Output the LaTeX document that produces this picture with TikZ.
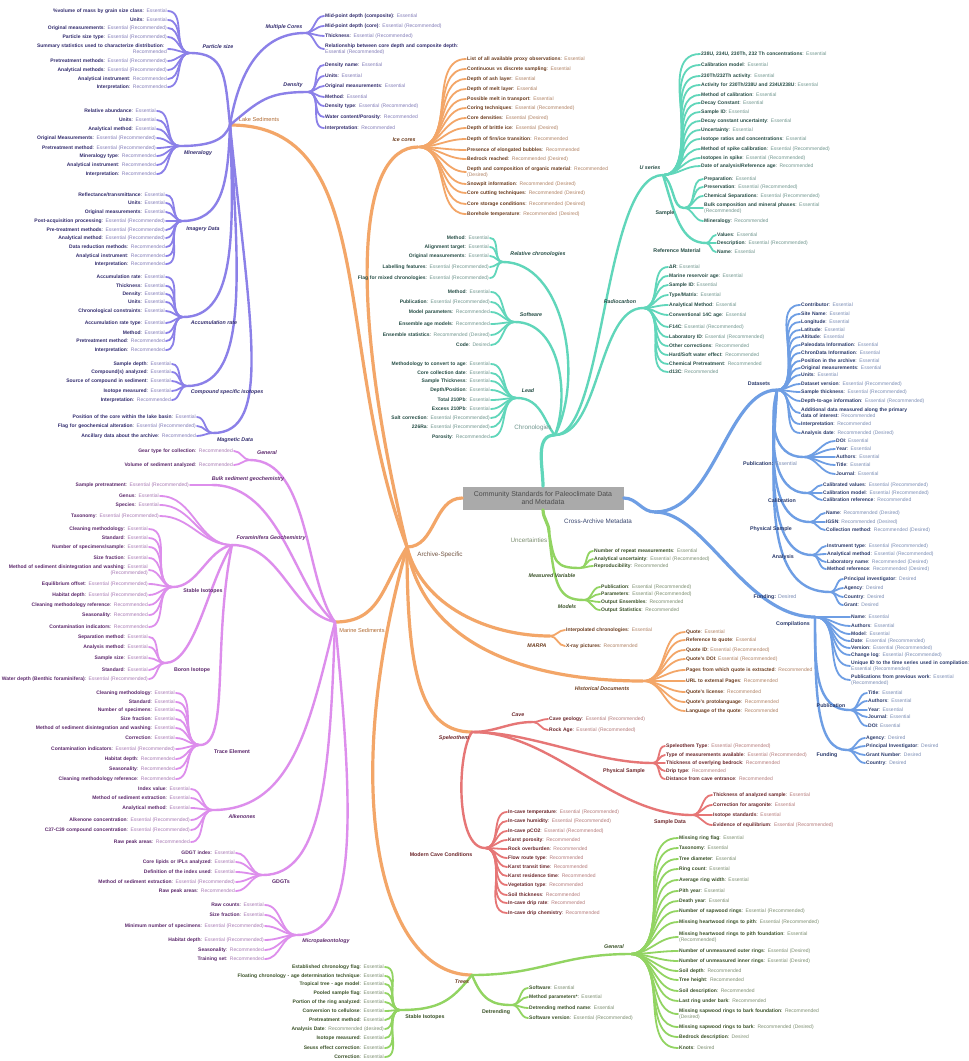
\documentclass[tikz,border=0pt]{standalone}
\usepackage{fontspec}
\setmainfont{Liberation Sans}
\setlength{\parindent}{0pt}

\definecolor{lakeC}{RGB}{139,128,232}
\definecolor{lakeK}{RGB}{50,44,110}
\definecolor{lakeV}{RGB}{130,124,184}
\definecolor{oraC}{RGB}{243,166,104}
\definecolor{oraK}{RGB}{108,60,30}
\definecolor{oraV}{RGB}{176,130,100}
\definecolor{oraL}{RGB}{176,106,50}
\definecolor{marC}{RGB}{221,142,236}
\definecolor{marK}{RGB}{92,40,108}
\definecolor{marV}{RGB}{168,122,180}
\definecolor{chrC}{RGB}{96,214,186}
\definecolor{chrK}{RGB}{38,78,70}
\definecolor{chrV}{RGB}{112,150,142}
\definecolor{croC}{RGB}{110,158,228}
\definecolor{croK}{RGB}{42,58,108}
\definecolor{croV}{RGB}{122,140,180}
\definecolor{uncC}{RGB}{146,212,98}
\definecolor{uncK}{RGB}{58,82,40}
\definecolor{uncV}{RGB}{124,142,112}
\definecolor{speC}{RGB}{230,118,118}
\definecolor{speK}{RGB}{108,38,42}
\definecolor{speV}{RGB}{180,122,122}
\definecolor{boxC}{RGB}{170,170,170}

\begin{document}
\begin{tikzpicture}[x=1pt,y=-1pt,
    leafL/.style={anchor=east,align=right,text width=240pt,inner sep=1pt,font=\fontsize{5}{6}\selectfont},
    leafR/.style={anchor=west,align=left,text width=240pt,inner sep=1pt,font=\fontsize{5}{6}\selectfont},
    cat/.style={inner sep=0.5pt,font=\fontsize{5.3}{6}\selectfont\bfseries\itshape},
    catb/.style={inner sep=0.5pt,font=\fontsize{5.3}{6}\selectfont\bfseries},
    main/.style={inner sep=0.5pt,font=\fontsize{6.3}{7}\selectfont},
    root/.style={fill=boxC,text=black!70,minimum width=161pt,minimum height=23pt,align=center,inner sep=1pt,font=\fontsize{7}{8.2}\selectfont},
    twig/.style={line width=1.8pt,line cap=round},
    limb/.style={line width=2.4pt,line cap=round},
    trunk/.style={line width=3.2pt,line cap=round}]
\fill[white] (0,0) rectangle (969,1061);
\useasboundingbox (0,0) rectangle (969,1061);

% Hubs
\node[root] (Root) at (543,498) {Community Standards for Paleoclimate Data\\and Metadata};
\coordinate (Arch) at (407,547);
\coordinate (Chron) at (555,435);
\coordinate (Cross) at (655,512);
\coordinate (Unc) at (549,532);
\coordinate (Lake) at (230,125);
\coordinate (Ice) at (418,147);
\coordinate (Mar) at (335,622);
\coordinate (MARPA) at (550,636);
\coordinate (Hist) at (643,681);
\coordinate (Spel) at (472,732);
\coordinate (Trees) at (472,975);
\coordinate (MC) at (305,33);
\coordinate (Dens) at (308,92);
\coordinate (PS) at (190,53);
\coordinate (Min) at (180,146);
\coordinate (Img) at (182,221);
\coordinate (Acc) at (183,317);
\coordinate (CSI) at (187,386);
\coordinate (Mag) at (213,433);
\coordinate (MGen) at (250,460);
\coordinate (Bulk) at (212,485);
\coordinate (Foram) at (232,545);
\coordinate (SI) at (173,587);
\coordinate (Boron) at (165,663);
\coordinate (Trace) at (200,745);
\coordinate (Alk) at (213,810);
\coordinate (GDGT) at (263,875);
\coordinate (Micro) at (297,935);
\coordinate (RC) at (503,262);
\coordinate (Soft) at (515,322);
\coordinate (Lead) at (517,398);
\coordinate (Rad) at (643,308);
\coordinate (US) at (663,175);
\coordinate (USam) at (684,208);
\coordinate (URef) at (706,243);
\coordinate (DS) at (777,390);
\coordinate (DPub) at (803,457);
\coordinate (DCal) at (807,493);
\coordinate (DPhys) at (810,522);
\coordinate (DAna) at (812,555);
\coordinate (DFund) at (830,592);
\coordinate (Comp) at (815,617);
\coordinate (CPub) at (850,710);
\coordinate (CFund) at (847,750);
\coordinate (MV) at (580,568);
\coordinate (Mod) at (584,600);
\coordinate (Cave) at (533,722);
\coordinate (SPhys) at (653,763);
\coordinate (SData) at (692,815);
\coordinate (Modern) at (485,848);
\coordinate (TGen) at (630,954);
\coordinate (Detr) at (512,1005);
\coordinate (TSI) at (400,1010);

% Branches
\draw[trunk,oraC] (Arch) to[out=0,in=180] (Root.west);
\draw[trunk,chrC] (Root.north) to[out=90,in=180] (Chron);
\draw[trunk,croC] (Root.east) to[out=0,in=180] (Cross);
\draw[trunk,uncC] (Root.south) to[out=-90,in=90] (Unc);
\draw[trunk,oraC] (Arch) .. controls +(-75,-200) and +(150,0) .. (Lake);
\draw[trunk,oraC] (Arch) .. controls +(-60,-250) and +(-60,0) .. (Ice);
\draw[trunk,oraC] (Arch) .. controls +(-25,40) and +(45,0) .. (Mar);
\draw[trunk,oraC] (Arch) .. controls +(15,60) and +(-60,0) .. (MARPA);
\draw[trunk,oraC] (Arch) .. controls +(15,90) and +(-130,0) .. (Hist);
\draw[trunk,oraC] (Arch) .. controls +(0,130) and +(-50,0) .. (Spel);
\draw[trunk,oraC] (Arch) .. controls +(-70,250) and +(-90,0) .. (Trees);
\draw[limb,lakeC] (Lake) .. controls +(10,-60) and +(-40,0) .. (MC);
\draw[limb,lakeC] (Lake) .. controls +(30,-25) and +(-40,0) .. (Dens);
\draw[limb,lakeC] (Lake) .. controls +(-5,-50) and +(35,0) .. (PS);
\draw[limb,lakeC] (Lake) .. controls +(-5,15) and +(30,0) .. (Min);
\draw[limb,lakeC] (Lake) .. controls +(-2,60) and +(40,0) .. (Img);
\draw[limb,lakeC] (Lake) .. controls +(5,120) and +(50,0) .. (Acc);
\draw[limb,lakeC] (Lake) .. controls +(10,160) and +(60,0) .. (CSI);
\draw[limb,lakeC] (Lake) .. controls +(20,200) and +(60,0) .. (Mag);
\draw[limb,marC] (Mar) .. controls +(-30,-40) and +(60,0) .. (MGen);
\draw[limb,marC] (Mar) .. controls +(-40,-30) and +(70,0) .. (Bulk);
\draw[limb,marC] (Mar) .. controls +(-45,-10) and +(50,0) .. (Foram);
\draw[limb,marC] (Mar) .. controls +(-25,100) and +(80,0) .. (Alk);
\draw[limb,marC] (Mar) .. controls +(-5,150) and +(60,0) .. (GDGT);
\draw[limb,marC] (Mar) .. controls +(20,200) and +(60,0) .. (Micro);
\draw[limb,marC] (Foram) .. controls +(-25,5) and +(25,0) .. (SI);
\draw[limb,marC] (Foram) .. controls +(-25,40) and +(30,0) .. (Boron);
\draw[limb,marC] (Foram) .. controls +(-20,100) and +(30,0) .. (Trace);
\draw[limb,chrC] (Chron) .. controls +(30,-60) and +(60,0) .. (RC);
\draw[limb,chrC] (Chron) .. controls +(15,-40) and +(45,0) .. (Soft);
\draw[limb,chrC] (Chron) .. controls +(-10,-10) and +(25,0) .. (Lead);
\draw[limb,chrC] (Chron) .. controls +(45,0) and +(-45,0) .. (Rad);
\draw[limb,chrC] (Chron) .. controls +(50,0) and +(-60,0) .. (US);
\draw[limb,chrC] (US) .. controls +(12,10) and +(-12,0) .. (USam);
\draw[limb,chrC] (US) .. controls +(12,40) and +(-25,0) .. (URef);
\draw[trunk,croC] (Cross) .. controls +(60,0) and +(-50,0) .. (DS);
\draw[trunk,croC] (Cross) .. controls +(50,0) and +(-70,0) .. (Comp);
\draw[limb,croC] (DS) .. controls +(-8,30) and +(-30,0) .. (DPub);
\draw[limb,croC] (DS) .. controls +(-8,50) and +(-35,0) .. (DCal);
\draw[limb,croC] (DS) .. controls +(-8,70) and +(-38,0) .. (DPhys);
\draw[limb,croC] (DS) .. controls +(-8,90) and +(-40,0) .. (DAna);
\draw[limb,croC] (DS) .. controls +(-8,120) and +(-60,0) .. (DFund);
\draw[limb,croC] (Comp) .. controls +(0,50) and +(-35,0) .. (CPub);
\draw[limb,croC] (Comp) .. controls +(0,80) and +(-30,0) .. (CFund);
\draw[limb,uncC] (Unc) .. controls +(5,30) and +(-25,0) .. (MV);
\draw[limb,uncC] (Unc) .. controls +(5,55) and +(-25,0) .. (Mod);
\draw[limb,speC] (Spel) to[out=0,in=180] (Cave);
\draw[limb,speC] (Spel) .. controls +(60,0) and +(-60,0) .. (SPhys);
\draw[limb,speC] (Spel) .. controls +(80,0) and +(-80,0) .. (SData);
\draw[limb,speC] (Spel) .. controls +(-15,20) and +(-30,0) .. (Modern);
\draw[limb,uncC] (Trees) .. controls +(70,0) and +(-70,0) .. (TGen);
\draw[limb,uncC] (Trees) .. controls +(10,25) and +(-20,0) .. (Detr);
\draw[limb,uncC] (Trees) .. controls +(-20,25) and +(40,0) .. (TSI);

% Main labels
\node[main,text=oraK!60!gray] (Arch-l) at (440,555) {Archive-Specific};
\node[main,text=chrV] (Chron-l) at (533,428) {Chronologies};
\node[main,text=croK!80!gray] (Cross-l) at (598,521) {Cross-Archive Metadata};
\node[main,text=uncV] (Unc-l) at (529,540) {Uncertainties};
\node[main,text=oraL,font=\fontsize{5.6}{6}\selectfont] (Lake-l) at (259,119) {Lake Sediments};
\node[main,text=oraL,font=\fontsize{5.6}{6}\selectfont] (Mar-l) at (362,630) {Marine Sediments};

% Lake Sediments
\node[cat,text=lakeK] (MC-l) at (284,27) {Multiple Cores};
\foreach \i/\y/\name/\val in {1/16/{Mid-point depth (composite)}/Essential,
    2/26/{Mid-point depth (core)}/{Essential (Recommended)},
    3/36/Thickness/{Essential (Recommended)},
    4/49/{Relationship between core depth and composite depth}/{\\Essential (Recommended)}} {
    \node[leafR,text=lakeK] (MC-\i) at (324,\y) {\textbf{\name}: \textcolor{lakeV}{\val}};
    \draw[twig,lakeC] (MC) to[out=0,in=180] (MC-\i.west);
}
\node[cat,text=lakeK] (Dens-l) at (293,85) {Density};
\foreach \i/\y/\name/\val in {1/65/Density name/Essential,
    2/76/Units/Essential,
    3/86/Original measurements/Essential,
    4/97/Method/Essential,
    5/106/Density type/{Essential (Recommended)},
    6/117/{Water content/Porosity}/Recommended,
    7/128/Interpretation/Recommended} {
    \node[leafR,text=lakeK] (Dens-\i) at (324,\y) {\textbf{\name}: \textcolor{lakeV}{\val}};
    \draw[twig,lakeC] (Dens) to[out=0,in=180] (Dens-\i.west);
}
\node[cat,text=lakeK] (PS-l) at (218,47) {Particle size};
\foreach \i/\y/\name/\val in {1/11/{\%volume of mass by grain size class}/Essential,
    2/20/Units/Essential,
    3/28/Original measurements/{Essential (Recommended)},
    4/37/Particle size type/{Essential (Recommended)},
    5/49/{Summary statistics used to characterize distribution}/{\\Recommended},
    6/61/Pretreatment methods/{Essential (Recommended)},
    7/70/Analytical methods/{Essential (Recommended)},
    8/79/Analytical instrument/Recommended,
    9/87/Interpretation/Recommended} {
    \node[leafL,text=lakeK] (PS-\i) at (168,\y) {\textbf{\name}: \textcolor{lakeV}{\val}};
    \draw[twig,lakeC] (PS) to[out=180,in=0] (PS-\i.east);
}
\node[cat,text=lakeK] (Min-l) at (198,153) {Mineralogy};
\foreach \i/\y/\name/\val in {1/111/Relative abundance/Essential,
    2/120/Units/Essential,
    3/129/Analytical method/Essential,
    4/138/Original Measurements/{Essential (Recommended)},
    5/148/Pretreatment method/{Essential (Recommended)},
    6/156/Mineralogy type/Recommended,
    7/165/Analytical instrument/Recommended,
    8/174/Interpretation/Recommended} {
    \node[leafL,text=lakeK] (Min-\i) at (157,\y) {\textbf{\name}: \textcolor{lakeV}{\val}};
    \draw[twig,lakeC] (Min) to[out=180,in=0] (Min-\i.east);
}
\node[cat,text=lakeK] (Img-l) at (203,229) {Imagery Data};
\foreach \i/\y/\name/\val in {1/195/{Reflectance/transmittance}/Essential,
    2/203/Units/Essential,
    3/212/Original measurements/Essential,
    4/221/Post-acquisition processing/{Essential (Recommended)},
    5/230/Pre-treatment methods/{Essential (Recommended)},
    6/238/Analytical method/{Essential (Recommended)},
    7/247/Data reduction methods/Recommended,
    8/256/Analytical instrument/Recommended,
    9/264/Interpretation/Recommended} {
    \node[leafL,text=lakeK] (Img-\i) at (166,\y) {\textbf{\name}: \textcolor{lakeV}{\val}};
    \draw[twig,lakeC] (Img) to[out=180,in=0] (Img-\i.east);
}
\node[cat,text=lakeK] (Acc-l) at (214,323) {Accumulation rate};
\foreach \i/\y/\name/\val in {1/277/Accumulation rate/Essential,
    2/286/Thickness/Essential,
    3/294/Density/Essential,
    4/302/Units/Essential,
    5/311/Chronological constraints/Essential,
    6/323/Accumulation rate type/Essential,
    7/333/Method/Essential,
    8/341/Pretreatment method/Recommended,
    9/350/Interpretation/Recommended} {
    \node[leafL,text=lakeK] (Acc-\i) at (166,\y) {\textbf{\name}: \textcolor{lakeV}{\val}};
    \draw[twig,lakeC] (Acc) to[out=180,in=0] (Acc-\i.east);
}
\node[cat,text=lakeK] (CSI-l) at (227,392) {Compound specific isotopes};
\foreach \i/\y/\name/\val in {1/364/Sample depth/Essential,
    2/372/{Compound(s) analyzed}/Essential,
    3/381/Source of compound in sediment/Essential,
    4/391/Isotope measured/Essential,
    5/400/Interpretation/Recommended} {
    \node[leafL,text=lakeK] (CSI-\i) at (172,\y) {\textbf{\name}: \textcolor{lakeV}{\val}};
    \draw[twig,lakeC] (CSI) to[out=180,in=0] (CSI-\i.east);
}
\node[cat,text=lakeK] (Mag-l) at (235,440) {Magnetic Data};
\foreach \i/\y/\name/\val in {1/417/Position of the core within the lake basin/Essential,
    2/426/Flag for geochemical alteration/{Essential (Recommended)},
    3/436/Ancillary data about the archive/Recommended} {
    \node[leafL,text=lakeK] (Mag-\i) at (197,\y) {\textbf{\name}: \textcolor{lakeV}{\val}};
    \draw[twig,lakeC] (Mag) to[out=180,in=0] (Mag-\i.east);
}

% Marine Sediments
\node[cat,text=marK] (MGen-l) at (267,453) {General};
\foreach \i/\y/\name/\val in {1/451/Gear type for collection/Recommended,
    2/465/Volume of sediment analyzed/Recommended} {
    \node[leafL,text=marK] (MGen-\i) at (234,\y) {\textbf{\name}: \textcolor{marV}{\val}};
    \draw[twig,marC] (MGen) to[out=180,in=0] (MGen-\i.east);
}
\node[cat,text=marK] (Bulk-l) at (248,479) {Bulk sediment geochemistry};
\foreach \i/\y/\name/\val in {1/485/Sample pretreatment/{Essential (Recommended)}} {
    \node[leafL,text=marK] (Bulk-\i) at (190,\y) {\textbf{\name}: \textcolor{marV}{\val}};
    \draw[twig,marC] (Bulk) to[out=180,in=0] (Bulk-\i.east);
}
\node[cat,text=marK] (Foram-l) at (271,538) {Foraminifera Geochemistry};
\foreach \i/\y/\name/\val in {1/496/Genus/Essential,
    2/505/Species/Essential,
    3/516/Taxonomy/{Essential (Recommended)}} {
    \node[leafL,text=marK] (Foram-\i) at (160,\y) {\textbf{\name}: \textcolor{marV}{\val}};
    \draw[twig,marC] (Foram) to[out=180,in=0] (Foram-\i.east);
}
\node[catb,text=marK] (SI-l) at (203,591) {Stable Isotopes};
\foreach \i/\y/\name/\val in {1/529/Cleaning methodology/Essential,
    2/538/Standard/Essential,
    3/547/{Number of specimens/sample}/Essential,
    4/558/Size fraction/Essential,
    5/570/Method of sediment disintegration and washing/{Essential\\(Recommended)},
    6/584/Equilibrium offset/{Essential (Recommended)},
    7/595/Habitat depth/{Essential (Recommended)},
    8/605/Cleaning methodology reference/Recommended,
    9/615/Seasonality/Recommended,
    10/627/Contamination indicators/Recommended} {
    \node[leafL,text=marK] (SI-\i) at (149,\y) {\textbf{\name}: \textcolor{marV}{\val}};
    \draw[twig,marC] (SI) to[out=180,in=0] (SI-\i.east);
}
\node[catb,text=marK] (Boron-l) at (192,670) {Boron Isotope};
\foreach \i/\y/\name/\val in {1/637/Separation method/Essential,
    2/647/Analysis method/Essential,
    3/658/Sample size/Essential,
    4/670/Standard/Essential,
    5/679/{Water depth (Benthic foraminifera)}/{Essential (Recommended)}} {
    \node[leafL,text=marK] (Boron-\i) at (149,\y) {\textbf{\name}: \textcolor{marV}{\val}};
    \draw[twig,marC] (Boron) to[out=180,in=0] (Boron-\i.east);
}
\node[catb,text=marK] (Trace-l) at (232,752) {Trace Element};
\foreach \i/\y/\name/\val in {1/693/Cleaning methodology/Essential,
    2/702/Standard/Essential,
    3/710/Number of specimens/Essential,
    4/719/Size fraction/Essential,
    5/728/Method of sediment disintegration and washing/Essential,
    6/738/Correction/Essential,
    7/749/Contamination indicators/{Essential (Recommended)},
    8/759/Habitat depth/Recommended,
    9/769/Seasonality/Recommended,
    10/779/Cleaning methodology reference/Recommended} {
    \node[leafL,text=marK] (Trace-\i) at (176,\y) {\textbf{\name}: \textcolor{marV}{\val}};
    \draw[twig,marC] (Trace) to[out=180,in=0] (Trace-\i.east);
}
\node[cat,text=marK] (Alk-l) at (242,817) {Alkenones};
\foreach \i/\y/\name/\val in {1/789/Index value/Essential,
    2/798/Method of sediment extraction/Essential,
    3/808/Analytical method/Essential,
    4/820/Alkenone concentration/{Essential (Recommended)},
    5/830/C37-C39 compound concentration/{Essential (Recommended)},
    6/842/Raw peak areas/Recommended} {
    \node[leafL,text=marK] (Alk-\i) at (191,\y) {\textbf{\name}: \textcolor{marV}{\val}};
    \draw[twig,marC] (Alk) to[out=180,in=0] (Alk-\i.east);
}
\node[catb,text=marK] (GDGT-l) at (281,882) {GDGTs};
\foreach \i/\y/\name/\val in {1/853/GDGT index/Essential,
    2/862/Core lipids or IPLs analyzed/Essential,
    3/872/Definition of the index used/Essential,
    4/882/Method of sediment extraction/{Essential (Recommended)},
    5/891/Raw peak areas/Recommended} {
    \node[leafL,text=marK] (GDGT-\i) at (236,\y) {\textbf{\name}: \textcolor{marV}{\val}};
    \draw[twig,marC] (GDGT) to[out=180,in=0] (GDGT-\i.east);
}
\node[cat,text=marK] (Micro-l) at (326,941) {Micropaleontology};
\foreach \i/\y/\name/\val in {1/905/Raw counts/Essential,
    2/915/Size fraction/Essential,
    3/926/Minimum number of specimens/{Essential (Recommended)},
    4/940/Habitat depth/{Essential (Recommended)},
    5/950/Seasonality/Recommended,
    6/959/Training set/Recommended} {
    \node[leafL,text=marK] (Micro-\i) at (265,\y) {\textbf{\name}: \textcolor{marV}{\val}};
    \draw[twig,marC] (Micro) to[out=180,in=0] (Micro-\i.east);
}

% Ice cores
\node[cat,text=oraK] (Ice-l) at (404,140) {Ice cores};
\foreach \i/\y/\name/\val in {1/59/List of all available proxy observations/Essential,
    2/69/Continuous vs discrete sampling/Essential,
    3/79/Depth of ash layer/Essential,
    4/89/Depth of melt layer/Essential,
    5/99/Possible melt in transport/Essential,
    6/108/Coring techniques/{Essential (Recommended)},
    7/118/Core densities/{Essential (Desired)},
    8/128/Depth of brittle ice/{Essential (Desired)},
    9/139/{Depth of firn/ice transition}/Recommended,
    10/150/Presence of elongated bubbles/Recommended,
    11/159/Bedrock reached/{Recommended (Desired)},
    12/172/Depth and composition of organic material/{Recommended\\(Desired)},
    13/184/Snowpit information/{Recommended (Desired)},
    14/193/Core cutting techniques/{Recommended (Desired)},
    15/204/Core storage conditions/{Recommended (Desired)},
    16/214/Borehole temperature/{Recommended (Desired)}} {
    \node[leafR,text=oraK] (Ice-\i) at (466,\y) {\textbf{\name}: \textcolor{oraV}{\val}};
    \draw[twig,oraC] (Ice) to[out=0,in=180] (Ice-\i.west);
}

% Chronologies
\node[cat,text=chrK] (RC-l) at (538,254) {Relative chronologies};
\foreach \i/\y/\name/\val in {1/238/Method/Essential,
    2/247/Alignment target/Essential,
    3/256/Original measurements/Essential,
    4/267/Labelling features/{Essential (Recommended)},
    5/278/Flag for mixed chronologies/{Essential (Recommended)}} {
    \node[leafL,text=chrK] (RC-\i) at (490,\y) {\textbf{\name}: \textcolor{chrV}{\val}};
    \draw[twig,chrC] (RC) to[out=180,in=0] (RC-\i.east);
}
\node[cat,text=chrK] (Soft-l) at (531,315) {Software};
\foreach \i/\y/\name/\val in {1/292/Method/Essential,
    2/302/Publication/{Essential (Recommended)},
    3/312/Model parameters/Recommended,
    4/324/Ensemble age models/Recommended,
    5/335/Ensemble statistics/{Recommended (Desired)},
    6/345/Code/Desired} {
    \node[leafL,text=chrK] (Soft-\i) at (491,\y) {\textbf{\name}: \textcolor{chrV}{\val}};
    \draw[twig,chrC] (Soft) to[out=180,in=0] (Soft-\i.east);
}
\node[cat,text=chrK] (Lead-l) at (528,391) {Lead};
\foreach \i/\y/\name/\val in {1/364/Methodology to convert to age/Essential,
    2/373/Core collection date/Essential,
    3/381/Sample Thickness/Essential,
    4/390/{Depth/Position}/Essential,
    5/400/Total 210Pb/Essential,
    6/409/Excess 210Pb/Essential,
    7/418/Salt correction/{Essential (Recommended)},
    8/427/226Ra/{Essential (Recommended)},
    9/437/Porosity/Recommended} {
    \node[leafL,text=chrK] (Lead-\i) at (491,\y) {\textbf{\name}: \textcolor{chrV}{\val}};
    \draw[twig,chrC] (Lead) to[out=180,in=0] (Lead-\i.east);
}
\node[cat,text=chrK] (Rad-l) at (620,302) {Radiocarbon};
\foreach \i/\y/\name/\val in {1/267/ΔR/Essential,
    2/276/Marine reservoir age/Essential,
    3/285/Sample ID/Essential,
    4/295/{Type/Matrix}/Essential,
    5/305/Analytical Method/Essential,
    6/315/Conventional 14C age/Essential,
    7/327/F14C/{Essential (Recommended)},
    8/337/Laboratory ID/{Essential (Recommended)},
    9/346/Other corrections/Recommended,
    10/355/{Hard/Soft water effect}/Recommended,
    11/364/Chemical Pretreatment/Recommended,
    12/372/d13C/Recommended} {
    \node[leafR,text=chrK] (Rad-\i) at (668,\y) {\textbf{\name}: \textcolor{chrV}{\val}};
    \draw[twig,chrC] (Rad) to[out=0,in=180] (Rad-\i.west);
}
\node[cat,text=chrK] (US-l) at (650,168) {U series};
\foreach \i/\y/\name/\val in {1/54/{238U, 234U, 230Th, 232 Th concentrations}/Essential,
    2/65/Calibration model/Essential,
    3/76/{230Th/232Th activity}/Essential,
    4/85/{Activity for 230Th/238U and 234U/238U}/Essential,
    5/95/Method of calibration/Essential,
    6/103/Decay Constant/Essential,
    7/112/Sample ID/Essential,
    8/121/Decay constant uncertainty/Essential,
    9/130/Uncertainty/Essential,
    10/139/Isotope ratios and concentrations/Essential,
    11/149/Method of spike calibration/{Essential (Recommended)},
    12/158/Isotopes in spike/{Essential (Recommended)},
    13/166/{Date of analysis/Reference age}/Recommended} {
    \node[leafR,text=chrK] (US-\i) at (700,\y) {\textbf{\name}: \textcolor{chrV}{\val}};
    \draw[twig,chrC] (US) to[out=0,in=180] (US-\i.west);
}
\node[catb,text=chrK] (USam-l) at (665,213) {Sample};
\foreach \i/\y/\name/\val in {1/179/Preparation/Essential,
    2/187/Preservation/{Essential (Recommended)},
    3/196/Chemical Separations/{Essential (Recommended)},
    4/208/Bulk composition and mineral phases/{Essential\\(Recommended)},
    5/221/Mineralogy/Recommended} {
    \node[leafR,text=chrK] (USam-\i) at (703,\y) {\textbf{\name}: \textcolor{chrV}{\val}};
    \draw[twig,chrC] (USam) to[out=0,in=180] (USam-\i.west);
}
\node[catb,text=chrK] (URef-l) at (677,251) {Reference Material};
\foreach \i/\y/\name/\val in {1/235/Values/Essential,
    2/243/Description/{Essential (Recommended)},
    3/252/Name/Essential} {
    \node[leafR,text=chrK] (URef-\i) at (716,\y) {\textbf{\name}: \textcolor{chrV}{\val}};
    \draw[twig,chrC] (URef) to[out=0,in=180] (URef-\i.west);
}

% Cross-Archive Metadata
\node[catb,text=croK] (DS-l) at (759,384) {Datasets};
\foreach \i/\y/\name/\val in {1/305/Contributor/Essential,
    2/314/Site Name/Essential,
    3/322/Longitude/Essential,
    4/330/Latitude/Essential,
    5/337/Altitude/Essential,
    6/345/Paleodata Information/Essential,
    7/353/ChronData Information/Essential,
    8/361/Position in the archive/Essential,
    9/368/Original measurements/Essential,
    10/375/Units/Essential,
    11/384/Dataset version/{Essential (Recommended)},
    12/392/Sample thickness/{Essential (Recommended)},
    13/401/Depth-to-age information/{Essential (Recommended)},
    14/413/{Additional data measured along the primary\\data of interest}/Recommended,
    15/424/Interpretation/Recommended,
    16/433/Analysis date/{Recommended (Desired)}} {
    \node[leafR,text=croK] (DS-\i) at (800,\y) {\textbf{\name}: \textcolor{croV}{\val}};
    \draw[twig,croC] (DS) to[out=0,in=180] (DS-\i.west);
}
\node[catb,text=croK] (DPub-l) at (770,464) {Publication: \textcolor{croV}{\mdseries Essential}};
\foreach \i/\y/\name/\val in {1/441/DOI/Essential,
    2/449/Year/Essential,
    3/457/Authors/Essential,
    4/465/Title/Essential,
    5/474/Journal/Essential} {
    \node[leafR,text=croK] (DPub-\i) at (835,\y) {\textbf{\name}: \textcolor{croV}{\val}};
    \draw[twig,croC] (DPub) to[out=0,in=180] (DPub-\i.west);
}
\node[catb,text=croK] (DCal-l) at (782,501) {Calibration};
\foreach \i/\y/\name/\val in {1/485/Calibrated values/{Essential (Recommended)},
    2/493/Calibration model/{Essential (Recommended)},
    3/500/Calibration reference/Recommended} {
    \node[leafR,text=croK] (DCal-\i) at (822,\y) {\textbf{\name}: \textcolor{croV}{\val}};
    \draw[twig,croC] (DCal) to[out=0,in=180] (DCal-\i.west);
}
\node[catb,text=croK] (DPhys-l) at (771,529) {Physical Sample};
\foreach \i/\y/\name/\val in {1/513/Name/{Recommended (Desired)},
    2/522/IGSN/{Recommended (Desired)},
    3/530/Collection method/{Recommended (Desired)}} {
    \node[leafR,text=croK] (DPhys-\i) at (825,\y) {\textbf{\name}: \textcolor{croV}{\val}};
    \draw[twig,croC] (DPhys) to[out=0,in=180] (DPhys-\i.west);
}
\node[catb,text=croK] (DAna-l) at (783,557) {Analysis};
\foreach \i/\y/\name/\val in {1/546/Instrument type/{Essential (Recommended)},
    2/554/Analytical method/{Essential (Recommended)},
    3/562/Laboratory name/{Recommended (Desired)},
    4/569/Method reference/{Recommended (Desired)}} {
    \node[leafR,text=croK] (DAna-\i) at (826,\y) {\textbf{\name}: \textcolor{croV}{\val}};
    \draw[twig,croC] (DAna) to[out=0,in=180] (DAna-\i.west);
}
\node[catb,text=croK] (DFund-l) at (775,597) {Funding: \textcolor{croV}{\mdseries Desired}};
\foreach \i/\y/\name/\val in {1/579/Principal investigator/Desired,
    2/588/Agency/Desired,
    3/597/Country/Desired,
    4/605/Grant/Desired} {
    \node[leafR,text=croK] (DFund-\i) at (843,\y) {\textbf{\name}: \textcolor{croV}{\val}};
    \draw[twig,croC] (DFund) to[out=0,in=180] (DFund-\i.west);
}
\node[catb,text=croK] (Comp-l) at (793,624) {Compilations};
\foreach \i/\y/\name/\val in {1/617/Name/Essential,
    2/626/Authors/Essential,
    3/634/Model/Essential,
    4/641/Date/{Essential (Recommended)},
    5/648/Version/{Essential (Recommended)},
    6/655/Change log/{Essential (Recommended)},
    7/666/Unique ID to the time series used in compilation/{\\Essential (Recommended)},
    8/680/Publications from previous work/{Essential\\(Recommended)}} {
    \node[leafR,text=croK] (Comp-\i) at (850,\y) {\textbf{\name}: \textcolor{croV}{\val}};
    \draw[twig,croC] (Comp) to[out=0,in=180] (Comp-\i.west);
}
\node[catb,text=croK] (CPub-l) at (831,706) {Publication};
\foreach \i/\y/\name/\val in {1/693/Title/Essential,
    2/701/Authors/Essential,
    3/710/Year/Essential,
    4/717/Journal/Essential,
    5/726/DOI/Essential} {
    \node[leafR,text=croK] (CPub-\i) at (867,\y) {\textbf{\name}: \textcolor{croV}{\val}};
    \draw[twig,croC] (CPub) to[out=0,in=180] (CPub-\i.west);
}
\node[catb,text=croK] (CFund-l) at (827,755) {Funding};
\foreach \i/\y/\name/\val in {1/738/Agency/Desired,
    2/746/Principal Investigator/Desired,
    3/755/Grant Number/Desired,
    4/763/Country/Desired} {
    \node[leafR,text=croK] (CFund-\i) at (865,\y) {\textbf{\name}: \textcolor{croV}{\val}};
    \draw[twig,croC] (CFund) to[out=0,in=180] (CFund-\i.west);
}

% Uncertainties
\node[cat,text=uncK] (MV-l) at (552,576) {Measured Variable};
\foreach \i/\y/\name/\val in {1/551/Number of repeat measurements/Essential,
    2/559/Analytical uncertainty/{Essential (Recommended)},
    3/566/Reproducibility/Recommended} {
    \node[leafR,text=uncK] (MV-\i) at (593,\y) {\textbf{\name}: \textcolor{uncV}{\val}};
    \draw[twig,uncC] (MV) to[out=0,in=180] (MV-\i.west);
}
\node[cat,text=uncK] (Mod-l) at (567,607) {Models};
\foreach \i/\y/\name/\val in {1/587/Publication/{Essential (Recommended)},
    2/594/Parameters/{Essential (Recommended)},
    3/602/Output Ensembles/Recommended,
    4/610/Output Statistics/Recommended} {
    \node[leafR,text=uncK] (Mod-\i) at (600,\y) {\textbf{\name}: \textcolor{uncV}{\val}};
    \draw[twig,uncC] (Mod) to[out=0,in=180] (Mod-\i.west);
}

% MARPA and Historical Documents
\node[cat,text=oraK] (MARPA-l) at (537,646) {MARPA};
\foreach \i/\y/\name/\val in {1/630/Interpolated chronologies/Essential,
    2/646/X-ray pictures/Recommended} {
    \node[leafR,text=oraK] (MARPA-\i) at (565,\y) {\textbf{\name}: \textcolor{oraV}{\val}};
    \draw[twig,oraC] (MARPA) to[out=0,in=180] (MARPA-\i.west);
}
\node[cat,text=oraK] (Hist-l) at (602,689) {Historical Documents};
\foreach \i/\y/\name/\val in {1/632/Quote/Essential,
    2/640/Reference to quote/Essential,
    3/650/Quote ID/{Essential (Recommended)},
    4/659/Quote's DOI/{Essential (Recommended)},
    5/670/Pages from which quote is extracted/Recommended,
    6/681/URL to external Pages/Recommended,
    7/692/Quote's license/Recommended,
    8/702/Quote's protolanguage/Recommended,
    9/711/Language of the quote/Recommended} {
    \node[leafR,text=oraK] (Hist-\i) at (685,\y) {\textbf{\name}: \textcolor{oraV}{\val}};
    \draw[twig,oraC] (Hist) to[out=0,in=180] (Hist-\i.west);
}

% Speleothem
\node[cat,text=speK] (Spel-l) at (454,738) {Speleothem};
\node[cat,text=speK] (Cave-l) at (518,715) {Cave};
\foreach \i/\y/\name/\val in {1/719/Cave geology/{Essential (Recommended)},
    2/730/Rock Age/{Essential (Recommended)}} {
    \node[leafR,text=speK] (Cave-\i) at (548,\y) {\textbf{\name}: \textcolor{speV}{\val}};
    \draw[twig,speC] (Cave) to[out=0,in=180] (Cave-\i.west);
}
\node[catb,text=speK] (SPhys-l) at (624,771) {Physical Sample};
\foreach \i/\y/\name/\val in {1/746/Speleothem Type/{Essential (Recommended)},
    2/755/Type of measurements available/{Essential (Recommended)},
    3/763/Thickness of overlying bedrock/Recommended,
    4/771/Drip type/Recommended,
    5/779/Distance from cave entrance/Recommended} {
    \node[leafR,text=speK] (SPhys-\i) at (665,\y) {\textbf{\name}: \textcolor{speV}{\val}};
    \draw[twig,speC] (SPhys) to[out=0,in=180] (SPhys-\i.west);
}
\node[catb,text=speK] (SData-l) at (670,822) {Sample Data};
\foreach \i/\y/\name/\val in {1/795/Thickness of analyzed sample/Essential,
    2/805/Correction for aragonite/Essential,
    3/815/Isotope standards/Essential,
    4/825/Evidence of equilibrium/{Essential (Recommended)}} {
    \node[leafR,text=speK] (SData-\i) at (712,\y) {\textbf{\name}: \textcolor{speV}{\val}};
    \draw[twig,speC] (SData) to[out=0,in=180] (SData-\i.west);
}
\node[catb,text=speK] (Modern-l) at (441,855) {Modern Cave Conditions};
\foreach \i/\y/\name/\val in {1/812/In-cave temperature/{Essential (Recommended)},
    2/821/In-cave humidity/{Essential (Recommended)},
    3/831/In-cave pCO2/{Essential (Recommended)},
    4/840/Karst porosity/Recommended,
    5/849/Rock overburden/Recommended,
    6/858/Flow route type/Recommended,
    7/867/Karst transit time/Recommended,
    8/876/Karst residence time/Recommended,
    9/885/Vegetation type/Recommended,
    10/895/Soil thickness/Recommended,
    11/903/In-cave drip rate/Recommended,
    12/913/In-cave drip chemistry/Recommended} {
    \node[leafR,text=speK] (Modern-\i) at (507,\y) {\textbf{\name}: \textcolor{speV}{\val}};
    \draw[twig,speC] (Modern) to[out=0,in=180] (Modern-\i.west);
}

% Trees
\node[cat,text=oraK] (Trees-l) at (462,982) {Trees};
\node[cat,text=uncK] (TGen-l) at (614,947) {General};
\foreach \i/\y/\name/\val in {1/838/Missing ring flag/Essential,
    2/848/Taxonomy/Essential,
    3/859/Tree diameter/Essential,
    4/869/Ring count/Essential,
    5/880/Average ring width/Essential,
    6/891/Pith year/Essential,
    7/901/Death year/Essential,
    8/911/Number of sapwood rings/{Essential (Recommended)},
    9/922/Missing heartwood rings to pith/{Essential (Recommended)},
    10/937/Missing heartwood rings to pith foundation/{Essential\\(Recommended)},
    11/951/Number of unmeasured outer rings/{Essential (Desired)},
    12/961/Number of unmeasured inner rings/{Essential (Desired)},
    13/971/Soil depth/Recommended,
    14/980/Tree height/Recommended,
    15/991/Soil description/Recommended,
    16/1001/Last ring under bark/Recommended,
    17/1014/Missing sapwood rings to bark foundation/{Recommended\\(Desired)},
    18/1027/Missing sapwood rings to bark/{Recommended (Desired)},
    19/1037/Bedrock description/Desired,
    20/1048/Knots/Desired} {
    \node[leafR,text=uncK] (TGen-\i) at (678,\y) {\textbf{\name}: \textcolor{uncV}{\val}};
    \draw[twig,uncC] (TGen) to[out=0,in=180] (TGen-\i.west);
}
\node[catb,text=uncK] (Detr-l) at (496,1012) {Detrending};
\foreach \i/\y/\name/\val in {1/988/Software/Essential,
    2/997/Method parameters*/Essential,
    3/1008/Detrending method name/Essential,
    4/1018/Software version/{Essential (Recommended)}} {
    \node[leafR,text=uncK] (Detr-\i) at (528,\y) {\textbf{\name}: \textcolor{uncV}{\val}};
    \draw[twig,uncC] (Detr) to[out=0,in=180] (Detr-\i.west);
}
\node[catb,text=uncK] (TSI-l) at (425,1017) {Stable Isotopes};
\foreach \i/\y/\name/\val in {1/967/Established chronology flag/Essential,
    2/976/Floating chronology - age determination technique/Essential,
    3/984/Tropical tree - age model/Essential,
    4/993/Pooled sample flag/Essential,
    5/1002/Portion of the ring analyzed/Essential,
    6/1011/Conversion to cellulose/Essential,
    7/1020/Pretreatment method/Essential,
    8/1029/Analysis Date/{Recommended (desired)},
    9/1038/Isotope measured/Essential,
    10/1048/Seuss effect correction/Essential,
    11/1057/Correction/Essential} {
    \node[leafL,text=uncK] (TSI-\i) at (385,\y) {\textbf{\name}: \textcolor{uncV}{\val}};
    \draw[twig,uncC] (TSI) to[out=180,in=0] (TSI-\i.east);
}
\end{tikzpicture}
\end{document}
